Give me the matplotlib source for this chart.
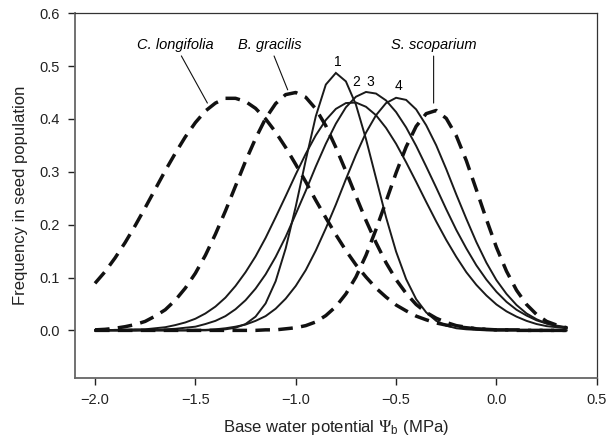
import matplotlib
matplotlib.use("Agg")
import matplotlib.pyplot as plt

plt.rcParams['font.family'] = ['Liberation Sans', 'DejaVu Sans']
plt.rcParams['mathtext.fontset'] = 'custom'
plt.rcParams['mathtext.rm'] = 'STIXGeneral'
plt.rcParams['mathtext.it'] = 'STIXGeneral:italic'
plt.rcParams['mathtext.sf'] = 'Liberation Sans'

# base water potential (MPa)
psi = [-2.00, -1.95, -1.90, -1.85, -1.80, -1.75, -1.70, -1.65, -1.60, -1.55,
       -1.50, -1.45, -1.40, -1.35, -1.30, -1.25, -1.20, -1.15, -1.10, -1.05,
       -1.00, -0.95, -0.90, -0.85, -0.80, -0.75, -0.70, -0.65, -0.60, -0.55,
       -0.50, -0.45, -0.40, -0.35, -0.30, -0.25, -0.20, -0.15, -0.10, -0.05,
       0.00, 0.05, 0.10, 0.15, 0.20, 0.25, 0.30, 0.35]

# species (dashed)
c_longifolia = [0.089, 0.111, 0.137, 0.166, 0.198, 0.232, 0.267, 0.302, 0.335, 0.366,
                0.393, 0.415, 0.430, 0.439, 0.439, 0.433, 0.420, 0.400, 0.375, 0.346,
                0.314, 0.281, 0.246, 0.213, 0.181, 0.151, 0.124, 0.101, 0.080, 0.063,
                0.048, 0.037, 0.027, 0.020, 0.014, 0.010, 0.007, 0.005, 0.003, 0.002,
                0.001, 0.001, 0.001, 0.000, 0.000, 0.000, 0.000, 0.000]
b_gracilis = [0.001, 0.002, 0.004, 0.007, 0.011, 0.017, 0.027, 0.039, 0.057, 0.080,
              0.108, 0.142, 0.182, 0.226, 0.273, 0.320, 0.363, 0.401, 0.429, 0.446,
              0.450, 0.441, 0.419, 0.387, 0.346, 0.301, 0.254, 0.208, 0.166, 0.128,
              0.096, 0.070, 0.049, 0.034, 0.023, 0.015, 0.009, 0.006, 0.003, 0.002,
              0.001, 0.001, 0.000, 0.000, 0.000, 0.000, 0.000, 0.000]
s_scoparium = [0.000, 0.000, 0.000, 0.000, 0.000, 0.000, 0.000, 0.000, 0.000, 0.000,
               0.000, 0.000, 0.000, 0.000, 0.000, 0.000, 0.000, 0.001, 0.001, 0.003,
               0.005, 0.009, 0.016, 0.028, 0.045, 0.069, 0.101, 0.142, 0.191, 0.244,
               0.298, 0.347, 0.386, 0.410, 0.416, 0.401, 0.368, 0.321, 0.266, 0.210,
               0.157, 0.112, 0.076, 0.049, 0.030, 0.017, 0.010, 0.005]

# populations 1-4 (solid)
pop1 = [0.000, 0.000, 0.000, 0.000, 0.000, 0.000, 0.000, 0.000, 0.000, 0.000,
        0.000, 0.000, 0.001, 0.002, 0.005, 0.012, 0.026, 0.051, 0.093, 0.155,
        0.234, 0.322, 0.405, 0.465, 0.487, 0.471, 0.427, 0.362, 0.288, 0.214,
        0.149, 0.097, 0.059, 0.034, 0.018, 0.009, 0.004, 0.002, 0.001, 0.000,
        0.000, 0.000, 0.000, 0.000, 0.000, 0.000, 0.000, 0.000]
pop2 = [0.000, 0.000, 0.001, 0.001, 0.002, 0.002, 0.004, 0.006, 0.010, 0.015,
        0.022, 0.032, 0.045, 0.062, 0.084, 0.110, 0.140, 0.175, 0.214, 0.254,
        0.295, 0.334, 0.369, 0.398, 0.419, 0.430, 0.431, 0.423, 0.407, 0.383,
        0.353, 0.318, 0.281, 0.243, 0.206, 0.171, 0.139, 0.110, 0.086, 0.066,
        0.049, 0.036, 0.026, 0.018, 0.012, 0.008, 0.006, 0.004]
pop3 = [0.000, 0.000, 0.000, 0.000, 0.000, 0.001, 0.001, 0.002, 0.003, 0.005,
        0.007, 0.012, 0.018, 0.027, 0.040, 0.057, 0.079, 0.106, 0.139, 0.177,
        0.220, 0.264, 0.310, 0.353, 0.391, 0.422, 0.442, 0.451, 0.448, 0.435,
        0.413, 0.384, 0.349, 0.310, 0.270, 0.229, 0.190, 0.155, 0.123, 0.096,
        0.073, 0.054, 0.039, 0.028, 0.019, 0.013, 0.009, 0.006]
pop4 = [0.000, 0.000, 0.000, 0.000, 0.000, 0.000, 0.000, 0.000, 0.000, 0.000,
        0.001, 0.001, 0.002, 0.004, 0.007, 0.011, 0.018, 0.027, 0.041, 0.060,
        0.084, 0.114, 0.151, 0.193, 0.238, 0.286, 0.332, 0.374, 0.407, 0.430,
        0.440, 0.436, 0.418, 0.388, 0.350, 0.305, 0.257, 0.211, 0.167, 0.128,
        0.095, 0.069, 0.048, 0.032, 0.021, 0.013, 0.008, 0.005]

fig = plt.figure(figsize=(6.09, 4.40), dpi=100)
ax = fig.add_axes([0.123, 0.141, 0.857, 0.829])

for pop in [pop1, pop2, pop3, pop4]:
    ax.plot(psi, pop, color='#1a1a1a', lw=1.4, solid_joinstyle='miter')

for sp in [c_longifolia, b_gracilis, s_scoparium]:
    ax.plot(psi, sp, color='#111111', lw=2.5, dashes=(4.2, 2.4))

# population numbers
ax.text(-0.79, 0.508, '1', fontsize=10, ha='center', va='center')
ax.text(-0.70, 0.470, '2', fontsize=10, ha='center', va='center')
ax.text(-0.627, 0.470, '3', fontsize=10, ha='center', va='center')
ax.text(-0.49, 0.462, '4', fontsize=10, ha='center', va='center')

# species labels with leader lines
lead = dict(arrowstyle='-', color='#111111', lw=0.8, shrinkA=1, shrinkB=0)
ax.annotate('C. longifolia', xy=(-1.44, 0.430), xytext=(-1.60, 0.540),
            fontsize=10.5, style='italic', ha='center', va='center', arrowprops=lead)
ax.annotate('B. gracilis', xy=(-1.04, 0.455), xytext=(-1.13, 0.540),
            fontsize=10.5, style='italic', ha='center', va='center', arrowprops=lead)
ax.annotate('S. scoparium', xy=(-0.313, 0.430), xytext=(-0.313, 0.540),
            fontsize=10.5, style='italic', ha='center', va='center', arrowprops=lead)

ax.set_xlim(-2.1, 0.5)
ax.set_ylim(-0.09, 0.6)
ax.set_xticks([-2.0, -1.5, -1.0, -0.5, 0.0, 0.5])
ax.set_xticklabels(['\u22122.0', '\u22121.5', '\u22121.0', '\u22120.5', '0.0', '0.5'])
ax.set_yticks([0.0, 0.1, 0.2, 0.3, 0.4, 0.5, 0.6])
ax.set_yticklabels(['0.0', '0.1', '0.2', '0.3', '0.4', '0.5', '0.6'])
ax.tick_params(direction='out', length=5, width=1, labelsize=10.5, colors='#222222', pad=6)

for side in ['left', 'bottom']:
    ax.spines[side].set_color('#666666')
    ax.spines[side].set_linewidth(1.3)
for side in ['top', 'right']:
    ax.spines[side].set_color('#333333')
    ax.spines[side].set_linewidth(0.9)

ax.set_xlabel(r'Base water potential $\Psi_{\mathsf{b}}$ (MPa)', fontsize=12, color='#222222', labelpad=8)
ax.set_ylabel('Frequency in seed population', fontsize=12, color='#222222', labelpad=8)

fig.savefig('out.png', dpi=100)
